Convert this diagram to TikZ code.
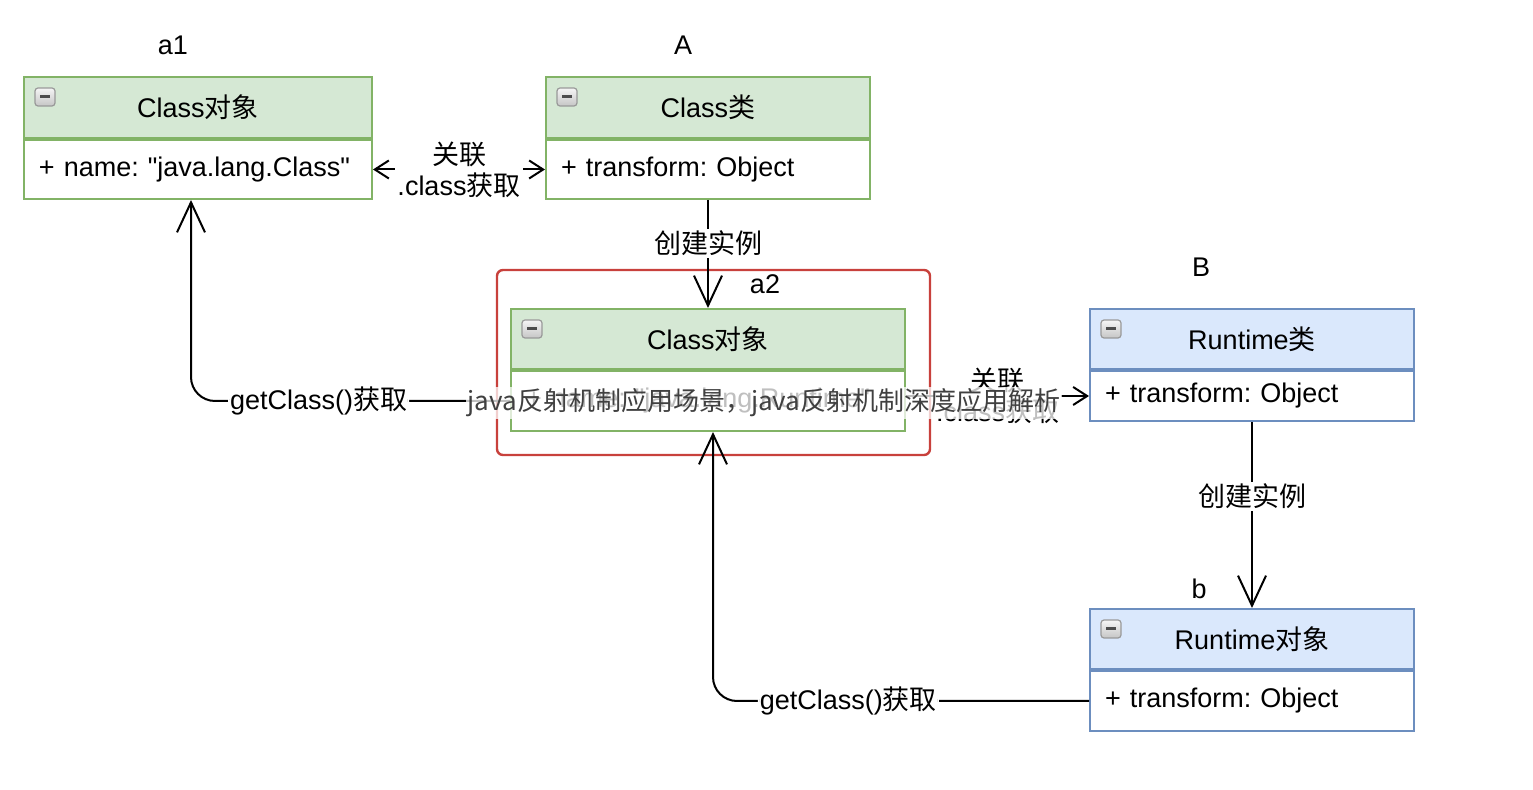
\documentclass[tikz,border=0pt]{standalone}
\usepackage{fontspec}
\setmainfont{Liberation Sans}
\newfontfamily\cjk{Noto Sans CJK SC}
\usetikzlibrary{arrows.meta,positioning}
\definecolor{hdrgreen}{HTML}{D5E8D4}
\definecolor{linegreen}{HTML}{82B366}
\definecolor{hdrblue}{HTML}{DAE8FC}
\definecolor{lineblue}{HTML}{6C8EBF}
\definecolor{framered}{HTML}{C8413C}
\frenchspacing

\begin{document}
\begin{tikzpicture}[x=0.5pt,y=-0.5pt,font=\fontsize{13.5}{15.5}\selectfont,
                    line width=1pt,node distance=0pt,
                    >={Straight Barb[length=7pt,width=9pt]}]
  \tikzstyle{head}=[draw,line width=1pt,minimum height=30.5pt,inner sep=0pt]
  \tikzstyle{green head}=[head,fill=hdrgreen,draw=linegreen]
  \tikzstyle{blue head}=[head,fill=hdrblue,draw=lineblue]
  \tikzstyle{body}=[draw,fill=white,line width=1pt,minimum height=29.5pt,
                    align=left,inner xsep=7.5pt,inner ysep=0pt]
  \tikzstyle{green body}=[body,draw=linegreen]
  \tikzstyle{blue body}=[body,draw=lineblue]
  \tikzstyle{icon}=[draw=gray!80,top color=gray!8,bottom color=gray!45,
                    rounded corners=1.5pt,line width=0.6pt]
  \tikzstyle{inst}=[-{Straight Barb[length=15pt,width=14pt]}]
  \tikzstyle{lbl}=[fill=white,inner sep=1pt,align=center]
  \tikzstyle{wmtext}=[fill=white,fill opacity=0.75,text opacity=1,
                      text=black!75,inner sep=1pt,font=\fontsize{13}{15}\selectfont]

  \useasboundingbox (0,0) rectangle (1533,790);

  % class boxes
  \node[green head,minimum width=174pt,anchor=north west] (a1h) at (23,76) {Class{\cjk 对象}};
  \node[green body,text width=159pt,below=of a1h] (a1b) {+ name: \textquotedbl java.lang.Class\textquotedbl};
  \node[green head,minimum width=162pt,anchor=north west] (Ah) at (545,76) {Class{\cjk 类}};
  \node[green body,text width=147pt,below=of Ah] (Ab) {+ transform: Object};

  \draw[framered,line width=1.2pt,rounded corners=3pt] (497,270) rectangle (930,455);
  \node[green head,minimum width=197pt,minimum height=30pt,anchor=north west] (a2h) at (510,308) {Class{\cjk 对象}};
  \node[green body,text width=182pt,minimum height=30pt,below=of a2h] (a2b) {+ name: \textquotedbl java.lang.Runtime\textquotedbl};

  \node[blue head,minimum width=162pt,minimum height=30pt,anchor=north west] (Bh) at (1089,308) {Runtime{\cjk 类}};
  \node[blue body,text width=147pt,minimum height=25pt,below=of Bh] (Bb) {+ transform: Object};
  \node[blue head,minimum width=162pt,minimum height=30pt,anchor=north west] (bh) at (1089,608) {Runtime{\cjk 对象}};
  \node[blue body,text width=147pt,minimum height=30pt,below=of bh] (bb) {+ transform: Object};

  \foreach \n in {a1h,Ah,a2h,Bh,bh}{
    \draw[icon] ([shift={(12,12)}]\n.north west) rectangle ++(20,18);
    \draw[line width=1.5pt,black!70] ([shift={(17,21)}]\n.north west) -- ++(10,0);
  }

  % names
  \node (na1) at (173,45) {a1};
  \node (nA) at (683,45) {A};
  \node (na2) at (765,284) {a2};
  \node (nB) at (1201,267) {B};
  \node (nb) at (1199,589) {b};

  % connectors
  \draw[<->] (a1b) -- (Ab) node[lbl,midway] {{\cjk 关联}\\.class{\cjk 获取}};
  \draw[inst] (Ab) -- (a2h) node[lbl,pos=0.4] {\cjk 创建实例};
  \draw[inst,rounded corners=12pt] (a2b.west) -| ([xshift=-3.5pt]a1b.south)
    node[lbl,pos=0.3] {getClass()\cjk 获取};
  \draw[->] (a2b.east |- Bb.west) -- (Bb.west) node[lbl,midway] {{\cjk 关联}\\.class{\cjk 获取}};
  \draw[inst] (Bb) -- (bh) node[lbl,pos=0.4] {\cjk 创建实例};
  \draw[inst,rounded corners=12pt] (bb.west) -| ([xshift=2.5pt]a2b.south)
    node[lbl,pos=0.32] {getClass()\cjk 获取};

  \node[wmtext] (wm) at (764,403) {\cjk java反射机制应用场景，java反射机制深度应用解析};
\end{tikzpicture}
\end{document}
